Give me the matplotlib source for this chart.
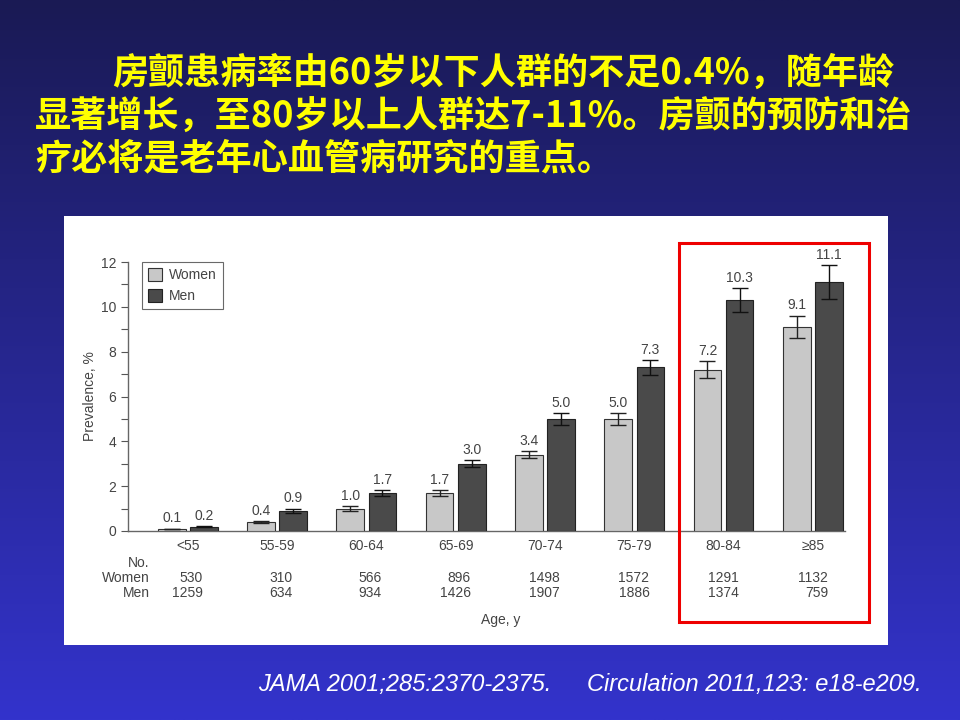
import numpy as np
import matplotlib
matplotlib.use("Agg")
import matplotlib.pyplot as plt
from matplotlib.patches import Rectangle
from matplotlib.transforms import blended_transform_factory

# ---------------- data ----------------
age_groups = ["<55", "55-59", "60-64", "65-69", "70-74", "75-79", "80-84", "≥85"]
women_prev = [0.1, 0.4, 1.0, 1.7, 3.4, 5.0, 7.2, 9.1]
men_prev = [0.2, 0.9, 1.7, 3.0, 5.0, 7.3, 10.3, 11.1]
women_err = [0.0, 0.05, 0.1, 0.12, 0.15, 0.25, 0.38, 0.5]
men_err = [0.02, 0.1, 0.12, 0.15, 0.25, 0.33, 0.53, 0.76]
women_n = ["530", "310", "566", "896", "1498", "1572", "1291", "1132"]
men_n = ["1259", "634", "934", "1426", "1907", "1886", "1374", "759"]

title_lines = ["房颤患病率由60岁以下人群的不足0.4%，随年龄",
               "显著增长，至80岁以上人群达7-11%。房颤的预防和治",
               "疗必将是老年心血管病研究的重点。"]
citation_1 = "JAMA 2001;285:2370-2375."
citation_2 = "Circulation 2011,123: e18-e209."

W, H = 960, 720
fig = plt.figure(figsize=(9.6, 7.2), dpi=100)

def fx(px):
    return px / W

def fy(py):
    return 1 - py / H

# background gradient
bg = fig.add_axes([0, 0, 1, 1], zorder=-10)
bg.set_axis_off()
top = np.array([26, 26, 84]) / 255
bot = np.array([51, 51, 204]) / 255
t = np.linspace(0, 1, 256)[:, None]
grad = top[None, :] * (1 - t) + bot[None, :] * t
bg.imshow(grad[:, None, :].repeat(2, axis=1), aspect="auto", extent=[0, 1, 0, 1])
bg.set_xlim(0, 1)
bg.set_ylim(0, 1)
# white panel
bg.add_patch(Rectangle((fx(64), fy(645)), fx(888) - fx(64), fy(216) - fy(645),
                       facecolor="white", edgecolor="none"))

# title
cjk = ["Noto Sans CJK SC", "DejaVu Sans"]
fig.text(fx(112), fy(73), title_lines[0], color="#ffff00", fontsize=26,
         fontweight="bold", family=cjk, va="center", ha="left")
fig.text(fx(35), fy(116), title_lines[1], color="#ffff00", fontsize=26,
         fontweight="bold", family=cjk, va="center", ha="left")
fig.text(fx(35), fy(159), title_lines[2], color="#ffff00", fontsize=26,
         fontweight="bold", family=cjk, va="center", ha="left")

# citation
cit_font = ["Liberation Sans", "DejaVu Sans"]
fig.text(fx(258), fy(685), citation_1, color="white", fontsize=17, style="italic",
         family=cit_font, va="center", ha="left")
fig.text(fx(587), fy(685), citation_2, color="white", fontsize=17, style="italic",
         family=cit_font, va="center", ha="left")

# chart axes
font = ["Liberation Sans", "DejaVu Sans"]
tc = "#444444"
ax = fig.add_axes([fx(128), fy(531), fx(845) - fx(128), fy(262) - fy(531)])
ax.patch.set_alpha(0)
x = np.arange(len(age_groups))
bw = 0.31
off = 0.18
ax.bar(x - off, women_prev, bw, color="#c8c8c8", edgecolor="#333333", linewidth=0.8,
       yerr=women_err, error_kw=dict(ecolor="#222222", elinewidth=1.0, capsize=6, capthick=1.0),
       label="Women", zorder=3)
ax.bar(x + off, men_prev, bw, color="#4a4a4a", edgecolor="#222222", linewidth=0.8,
       yerr=men_err, error_kw=dict(ecolor="#111111", elinewidth=1.0, capsize=6, capthick=1.0),
       label="Men", zorder=3)
for i in range(len(x)):
    ax.text(x[i] - off, women_prev[i] + women_err[i] + 0.15, f"{women_prev[i]:.1f}",
            ha="center", va="bottom", fontsize=10, color=tc, family=font)
    ax.text(x[i] + off, men_prev[i] + men_err[i] + 0.15, f"{men_prev[i]:.1f}",
            ha="center", va="bottom", fontsize=10, color=tc, family=font)

ax.set_xlim(-0.67, 7.36)
ax.set_ylim(0, 12)
ax.set_yticks(np.arange(0, 13, 2))
ax.set_yticks(np.arange(1, 12, 2), minor=True)
ax.tick_params(axis="y", which="both", direction="out", length=5, width=0.8,
               colors="#555555", labelcolor=tc, labelsize=10)
ax.tick_params(axis="x", length=0, labelcolor=tc, labelsize=10, pad=6)
ax.set_xticks(x)
ax.set_xticklabels(age_groups, family=font)
for lbl in ax.get_yticklabels():
    lbl.set_family(font)
for s in ["top", "right"]:
    ax.spines[s].set_visible(False)
for s in ["left", "bottom"]:
    ax.spines[s].set_color("#666666")
    ax.spines[s].set_linewidth(1.0)
ax.set_ylabel("Prevalence, %", fontsize=10, color=tc, family=font, labelpad=3)

leg = ax.legend(loc="upper left", bbox_to_anchor=(fx(142 - 128) / (fx(845) - fx(128)), 1.0),
                frameon=True, fancybox=False, edgecolor="#444444",
                handlelength=1.0, handleheight=1.0, borderpad=0.45, labelspacing=0.5,
                borderaxespad=0.0, handletextpad=0.5,
                prop={"family": font, "size": 10})
leg.get_frame().set_linewidth(0.8)
for txt in leg.get_texts():
    txt.set_color(tc)

# sample-size table
tr = blended_transform_factory(ax.transData, fig.transFigure)
lab_x = -0.43
fig_rows = [("No.", 563), ("Women", 578), ("Men", 593)]
for name, py in fig_rows:
    ax.text(lab_x, fy(py), name, transform=tr, ha="right", va="center",
            fontsize=10, color=tc, family=font)
for i in range(len(x)):
    ax.text(x[i] + 0.17, fy(578), women_n[i], transform=tr, ha="right", va="center",
            fontsize=10, color=tc, family=font)
    ax.text(x[i] + 0.17, fy(593), men_n[i], transform=tr, ha="right", va="center",
            fontsize=10, color=tc, family=font)
ax.text(fx(501), fy(620), "Age, y", transform=fig.transFigure, ha="center", va="center",
        fontsize=10, color=tc, family=font)

# red highlight box
fig.patches.append(Rectangle((fx(679), fy(622)), fx(869) - fx(679), fy(243) - fy(622),
                             transform=fig.transFigure, facecolor="none",
                             edgecolor="#ee0000", linewidth=2.2, zorder=20))

fig.savefig("out.png", dpi=100)
